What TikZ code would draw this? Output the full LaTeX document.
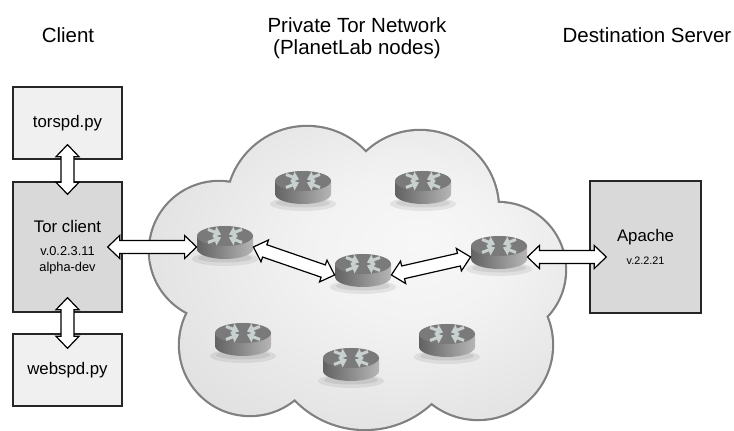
\documentclass[tikz,border=0pt]{standalone}
\usepackage{fontspec}
\setsansfont{Liberation Sans}
\definecolor{boxlight}{RGB}{240,240,240}
\definecolor{boxdark}{RGB}{217,217,217}
\definecolor{cloudline}{RGB}{128,128,128}
\definecolor{routertop}{RGB}{122,122,122}
\definecolor{routerdark}{RGB}{98,98,98}
\definecolor{routerlight}{RGB}{182,182,182}
\definecolor{routersym}{RGB}{200,208,208}
\tikzset{every picture/.style={/utils/exec={\sffamily}}}
\usetikzlibrary{calc}
\usetikzlibrary{positioning}
\usetikzlibrary{arrows.meta}

\pgfdeclareradialshading{cloudfill}{\pgfpoint{8bp}{6bp}}{color(0bp)=(black!3); color(12bp)=(black!5); color(50bp)=(black!18); color(60bp)=(black!19)}

\newcommand{\verfont}{\fontsize{6.4}{8}\selectfont}
\newcommand{\apfont}{\fontsize{5.4}{8}\selectfont}

% router: name, top centre
\newcommand{\router}[2]{%
  \begin{scope}[shift={#2}]
    \fill[black, opacity=.07] (0,-23) ellipse [x radius=33, y radius=7];
    \fill[black, opacity=.08] (0,-22) ellipse [x radius=27, y radius=4.5];
    \shade[left color=routerdark, right color=routerlight] (-28,0) -- (-28,-13) arc [start angle=180, end angle=360, x radius=28, y radius=10] -- (28,0) -- cycle;
    \fill[routertop] (0,0) ellipse [x radius=28, y radius=10];
    \foreach \sx in {1,-1}
      \foreach \sy in {1,-1}
        \draw[routerarrow] (17*\sx,6.5*\sy) -- (4*\sx,1.5*\sy);
  \end{scope}
  \node[routernode] (#1) at ($#2+(0,-11)$) {};
}

% fat double arrow between two points
\newcommand{\fatarrow}[2]{%
  \draw[fatline] let \p1=(#1), \p2=(#2), \n1={atan2(\y2-\y1,\x2-\x1)}, \n2={veclen(\x2-\x1,\y2-\y1)} in
    [shift={(\x1,\y1)}, rotate=\n1]
    (0pt,0pt) -- (6pt,5.75pt) -- (6pt,3.25pt) -- (\n2-6pt,3.25pt) -- (\n2-6pt,5.75pt) -- (\n2,0pt)
    -- (\n2-6pt,-5.75pt) -- (\n2-6pt,-3.25pt) -- (6pt,-3.25pt) -- (6pt,-5.75pt) -- cycle;
}

\begin{document}
\begin{tikzpicture}[x=0.5pt, y=0.5pt,
  headline/.style={font=\fontsize{10.25}{11}\selectfont, inner sep=0pt},
  appbox/.style={draw=black!85, line width=0.7pt, minimum width=54.5pt, inner sep=0pt, align=center, font=\fontsize{8.4}{8}\selectfont},
  lightbox/.style={appbox, fill=boxlight, minimum height=36pt},
  darkbox/.style={appbox, fill=boxdark},
  routernode/.style={inner sep=0pt, minimum width=28pt, minimum height=10pt},
  routerarrow/.style={draw=routersym, line width=1.5pt, -{Triangle[length=3.5pt, width=5.5pt]}},
  fatline/.style={draw=black, fill=white, line width=0.6pt},
  cloudedge/.style={draw=cloudline, line width=2.2pt}]
  \useasboundingbox (0,0) rectangle (734,431);

  % cloud
  \draw[cloudedge] (219,180) circle [radius=69] (307,224) circle [radius=80] (420,222) circle [radius=78]
    (498,161) circle [radius=67] (478,86) circle [radius=74] (365,99) circle [radius=97] (250,86) circle [radius=70];
  \shade[shading=cloudfill] (219,180) circle [radius=69] (307,224) circle [radius=80] (420,222) circle [radius=78]
    (498,161) circle [radius=67] (478,86) circle [radius=74] (365,99) circle [radius=97] (250,86) circle [radius=70]
    (360,175) circle [radius=95];

  % routers
  \router{r1}{(225,195)}
  \router{rtl}{(303,250)}
  \router{rtr}{(423,250)}
  \router{rc}{(363,167)}
  \router{rr}{(499,185)}
  \router{rbl}{(243,98)}
  \router{rbc}{(351,73)}
  \router{rbr}{(447,97)}

  % headings
  \node[headline, anchor=base] (client) at (68,388) {Client};
  \node[headline, anchor=north, align=center] (tornet) at (357,413.5) {Private Tor Network\\(PlanetLab nodes)};
  \node[headline, anchor=base] (dest) at (647,388) {Destination Server};

  % boxes
  \node[lightbox] (torspd) at (67.5,308) {torspd.py};
  \node[darkbox, minimum height=65pt] (torclient) at (67.5,184) {Tor client\\[3.5pt]{\verfont v.0.2.3.11}\\{\verfont alpha-dev}};
  \node[lightbox] (webspd) at (67.5,61) {webspd.py};
  \node[darkbox, minimum width=55.5pt, minimum height=66pt] (apache) at (645.5,184) {Apache\\[3.5pt]{\apfont v.2.2.21}};

  % links
  \fatarrow{[yshift=7.5pt]torspd.south}{[yshift=-6.5pt]torclient.north}
  \fatarrow{[yshift=7.5pt]torclient.south}{[yshift=-7.5pt]webspd.north}
  \fatarrow{[xshift=-7.5pt]torclient.east}{r1.west}
  \fatarrow{r1.east}{rc.west}
  \fatarrow{rc.east}{rr.west}
  \fatarrow{rr.east}{[xshift=8.5pt,yshift=-5pt]apache.west}
\end{tikzpicture}
\end{document}
